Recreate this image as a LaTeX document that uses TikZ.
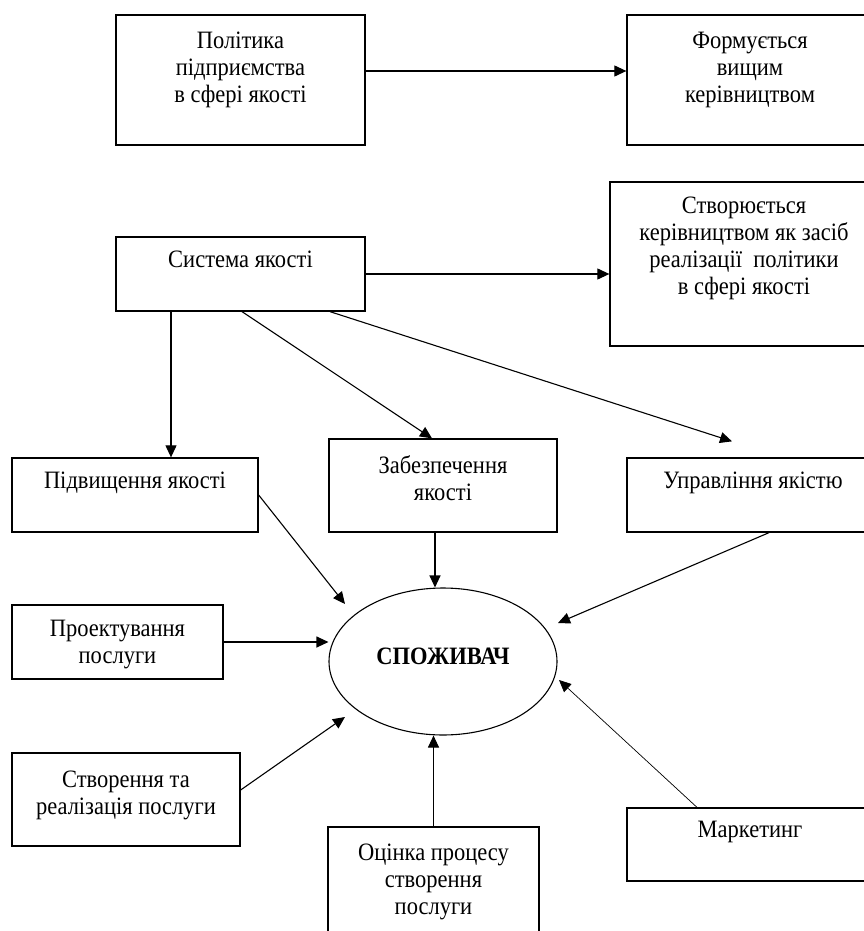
\documentclass[tikz,border=0pt]{standalone}
\usepackage{fontspec}
\setmainfont{Liberation Serif}[FakeStretch=0.9]
\usetikzlibrary{positioning,shapes.geometric,arrows.meta}
\tikzset{
  box/.style={draw,line width=1.3pt,inner sep=0pt},
  boxtext/.style={align=center,inner sep=0pt,font=\fontsize{25}{27}\selectfont},
  arr/.style={line width=1.1pt,-{Triangle[length=12pt,width=11pt]}},
}
\begin{document}
\begin{tikzpicture}[x=1pt,y=-1pt]
\useasboundingbox (0,0) rectangle (863,931);
\node[box,minimum width=249pt,minimum height=130pt] (pol) at (240.5,80) {};
\node[box,minimum width=246pt,minimum height=130pt] (form) at (750,80) {};
\node[box,minimum width=249pt,minimum height=74pt] (sys) at (240.5,274) {};
\node[box,minimum width=268pt,minimum height=164pt] (cre) at (744,264) {};
\node[box,minimum width=246pt,minimum height=74pt] (pid) at (135,495) {};
\node[box,minimum width=228pt,minimum height=93pt] (zab) at (443,485.5) {};
\node[box,minimum width=252pt,minimum height=74pt] (upr) at (753,495) {};
\node[box,minimum width=211pt,minimum height=74pt] (proj) at (117.5,642) {};
\node[box,minimum width=228pt,minimum height=93pt] (stv) at (126,799.5) {};
\node[box,minimum width=211pt,minimum height=130pt] (ocin) at (433.5,892) {};
\node[box,minimum width=246pt,minimum height=73pt] (mark) at (750,844.5) {};
\node[ellipse,draw,line width=1.1pt,minimum width=228pt,minimum height=147pt,inner sep=0pt,
      text depth=10pt,font=\fontsize{25}{28}\selectfont\bfseries] (cons) at (443,661.5) {СПОЖИВАЧ};

\node[boxtext,below=17pt of pol.north] (poltxt) {Політика\\підприємства\\в сфері якості};
\node[boxtext,below=18pt of form.north] (formtxt) {Формується\\вищим\\керівництвом};
\node[boxtext,below=14pt of sys.north] (systxt) {Система якості};
\node[boxtext,below=15pt of cre.north] (cretxt) {Створюється\\керівництвом як засіб\\реалізації\ \ політики\\в сфері якості};
\node[boxtext,below=14pt of pid.north] (pidtxt) {Підвищення якості};
\node[boxtext,below=17pt of zab.north] (zabtxt) {Забезпечення\\якості};
\node[boxtext,below=14pt of upr.north] (uprtxt) {Управління якістю};
\node[boxtext,below=16pt of proj.north] (projtxt) {Проектування\\послуги};
\node[boxtext,below=18pt of stv.north] (stvtxt) {Створення та\\реалізація послуги};
\node[boxtext,below=17pt of ocin.north] (ocintxt) {Оцінка процесу\\створення\\послуги};
\node[boxtext,below=14pt of mark.north] (marktxt) {Маркетинг};

\draw[arr] ([yshift=9pt]pol.east) -- ([yshift=9pt]form.west);
\draw[arr] (sys.east) -- (sys.east -| cre.west);
\draw[arr] ([xshift=-69.5pt]sys.south) -- ([xshift=36pt]pid.north);
\draw[arr] ([xshift=1.5pt]sys.south) -- ([xshift=-11pt]zab.north);
\draw[arr] ([xshift=89.5pt]sys.south) -- ([xshift=-21pt,yshift=16pt]upr.north);
\draw[arr] (pid.east) -- ([shift={(-98,-57.5)}]cons.center);
\draw[arr] ([xshift=-8pt]zab.south) -- ([xshift=-8pt]zab.south |- cons.north);
\draw[arr] ([xshift=16pt]upr.south) -- ([shift={(115,-38.5)}]cons.center);
\draw[arr] (proj.east) -- (proj.east -| cons.west);
\draw[arr] ([yshift=9.5pt]stv.east) -- ([shift={(-98,55.5)}]cons.center);
\draw[arr] (ocin.north) -- (ocin.north |- cons.south);
\draw[arr,line width=0.7pt] ([xshift=-53pt]mark.north) -- ([shift={(116,18.5)}]cons.center);
\end{tikzpicture}
\end{document}
